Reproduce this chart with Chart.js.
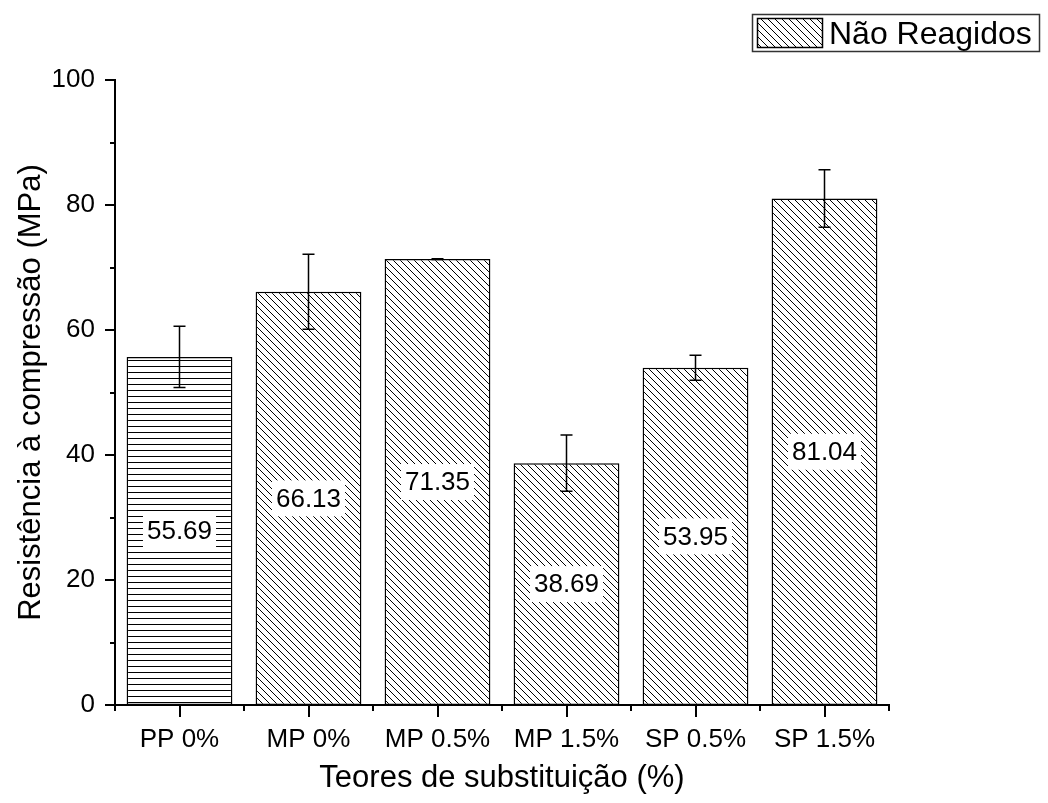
<!DOCTYPE html>
<html>
<head>
<meta charset="utf-8">
<script src="https://cdn.jsdelivr.net/npm/chart.js@4"></script>
<style>
  body { margin: 0; background: #fff; }
  canvas { display: block; }
</style>
</head>
<body>
<canvas id="chart" width="1048" height="803"></canvas>
<script>
// --- Data ---
const categories = ['PP 0%', 'MP 0%', 'MP 0.5%', 'MP 1.5%', 'SP 0.5%', 'SP 1.5%'];
const resistencia = [55.69, 66.13, 71.35, 38.69, 53.95, 81.04];
const desvio = [4.9, 6.0, 0.05, 4.5, 2.0, 4.6];
const legendLabel = 'Não Reagidos';

const FONT = '"Liberation Sans", Arial, sans-serif';

// --- Hatch patterns ---
function makeHatch(kind) {
    const s = kind === 'horiz' ? 6 : 7;
    const c = document.createElement('canvas');
    c.width = s; c.height = s;
    const g = c.getContext('2d');
    g.fillStyle = '#fff';
    g.fillRect(0, 0, s, s);
    g.strokeStyle = '#000';
    g.lineWidth = 1;
    g.beginPath();
    if (kind === 'horiz') {
        g.moveTo(0, 0.5); g.lineTo(s, 0.5);
    } else {
        g.moveTo(-1, -1); g.lineTo(s + 1, s + 1);
        g.moveTo(s - 1, -1); g.lineTo(s + 1, 1);
        g.moveTo(-1, s - 1); g.lineTo(1, s + 1);
    }
    g.stroke();
    return g.createPattern(c, 'repeat');
}
const ctx = document.getElementById('chart').getContext('2d');
const horizPattern = makeHatch('horiz');
const diagPattern = makeHatch('diag');
const fills = categories.map((c, i) => i === 0 ? horizPattern : diagPattern);

// --- Plugins ---
const extrasPlugin = {
    id: 'extras',
    afterDatasetsDraw(chart) {
        const c = chart.ctx;
        const y = chart.scales.y;
        const meta = chart.getDatasetMeta(0);

        // value labels with white box
        c.save();
        c.font = '26px ' + FONT;
        c.textAlign = 'center';
        c.textBaseline = 'middle';
        meta.data.forEach((bar, i) => {
            const txt = resistencia[i].toFixed(2);
            const cy = y.getPixelForValue(resistencia[i] / 2);
            const w = c.measureText(txt).width + 8;
            c.fillStyle = '#fff';
            c.fillRect(bar.x - w / 2, cy - 18, w, 36);
            c.fillStyle = '#000';
            c.fillText(txt, bar.x, cy + 1);
        });
        c.restore();

        // error bars
        c.save();
        c.strokeStyle = '#000';
        c.lineWidth = 1.5;
        meta.data.forEach((bar, i) => {
            const top = y.getPixelForValue(resistencia[i] + desvio[i]);
            const bot = y.getPixelForValue(resistencia[i] - desvio[i]);
            c.beginPath();
            c.moveTo(bar.x, top); c.lineTo(bar.x, bot);
            c.moveTo(bar.x - 6, top); c.lineTo(bar.x + 6, top);
            c.moveTo(bar.x - 6, bot); c.lineTo(bar.x + 6, bot);
            c.stroke();
        });
        c.restore();
    },
    afterDraw(chart) {
        const c = chart.ctx;
        const x = chart.scales.x, y = chart.scales.y;
        const area = chart.chartArea;
        c.save();
        c.strokeStyle = '#000';
        c.lineWidth = 2;
        c.beginPath();
        // y major / minor ticks
        for (let v = 0; v <= 100; v += 10) {
            const py = Math.round(y.getPixelForValue(v));
            const len = v % 20 === 0 ? 10 : 5;
            c.moveTo(area.left - len, py); c.lineTo(area.left, py);
        }
        // x major ticks at categories, minor ticks at boundaries
        categories.forEach((cat, i) => {
            const px = Math.round(x.getPixelForValue(i));
            c.moveTo(px, area.bottom); c.lineTo(px, area.bottom + 12);
        });
        const step = (area.right - area.left) / categories.length;
        for (let i = 0; i <= categories.length; i++) {
            const px = Math.round(area.left + i * step);
            c.moveTo(px, area.bottom); c.lineTo(px, area.bottom + 6);
        }
        // x axis slight overhang to the left
        c.moveTo(area.left - 8, area.bottom); c.lineTo(area.left, area.bottom);
        c.stroke();
        c.restore();

        // legend box
        c.save();
        c.fillStyle = '#fff';
        c.fillRect(752, 14, 288, 38);
        c.strokeStyle = '#333';
        c.lineWidth = 1.5;
        c.strokeRect(752.5, 14.5, 287, 37);
        c.fillStyle = diagPattern;
        c.fillRect(757, 18, 66, 30);
        c.strokeStyle = '#000';
        c.lineWidth = 1.5;
        c.strokeRect(757.5, 18.5, 65, 29);
        c.fillStyle = '#000';
        c.font = '32px ' + FONT;
        c.textAlign = 'left';
        c.textBaseline = 'middle';
        c.fillText(legendLabel, 829, 35);
        c.restore();
    }
};

// --- Chart ---
new Chart(ctx, {
    type: 'bar',
    data: {
        labels: categories,
        datasets: [{
            label: legendLabel,
            data: resistencia,
            backgroundColor: fills,
            borderColor: '#000',
            borderWidth: 1.5,
            borderSkipped: false,
            categoryPercentage: 1,
            barPercentage: 0.82
        }]
    },
    options: {
        responsive: false,
        animation: false,
        layout: { padding: { left: 0, top: 80, right: 159, bottom: 0 } },
        plugins: {
            legend: { display: false },
            tooltip: { enabled: false }
        },
        scales: {
            x: {
                afterFit(scale) { scale.height = 98; },
                grid: { display: false },
                border: { display: true, color: '#000', width: 2 },
                ticks: { color: '#000', padding: 11, font: { family: FONT, size: 26 } },
                title: {
                    display: true,
                    text: 'Teores de substituição (%)',
                    color: '#000',
                    font: { family: FONT, size: 31 },
                    padding: { top: 0, bottom: 6 }
                }
            },
            y: {
                min: 0,
                max: 100,
                afterFit(scale) { scale.width = 115; },
                grid: { display: false },
                border: { display: true, color: '#000', width: 2 },
                ticks: { stepSize: 20, color: '#000', padding: 12, font: { family: FONT, size: 26 } },
                title: {
                    display: true,
                    text: 'Resistência à compressão (MPa)',
                    color: '#000',
                    font: { family: FONT, size: 31 },
                    padding: { top: 13, bottom: 0 }
                }
            }
        }
    },
    plugins: [extrasPlugin]
});
</script>
</body>
</html>
